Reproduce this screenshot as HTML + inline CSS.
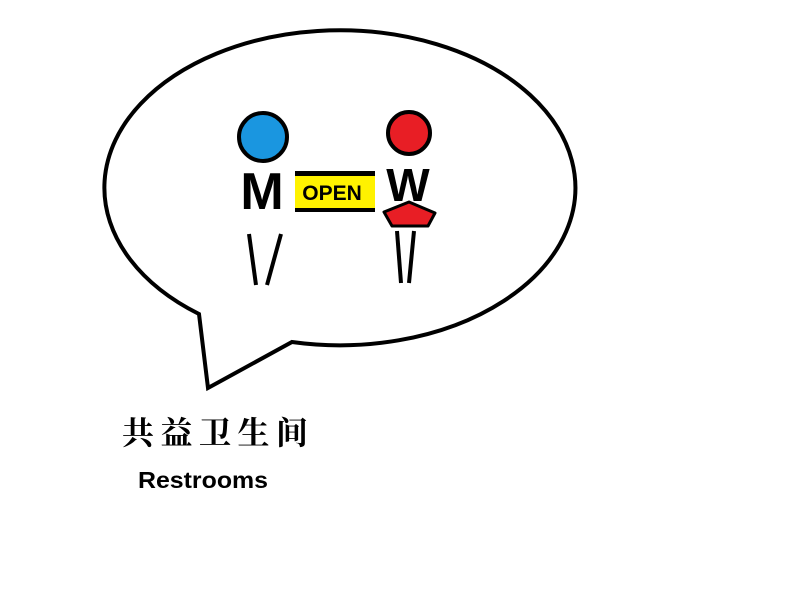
<!DOCTYPE html>
<html><head><meta charset="utf-8"><style>
html,body{margin:0;padding:0;background:#fff;}
</style></head><body>
<svg width="807" height="605" viewBox="0 0 807 605" xmlns="http://www.w3.org/2000/svg">
<rect width="807" height="605" fill="#fff"/>
<path d="M292,342 A235.5,157.5 0 1 0 199,314 L208,388 Z" fill="#fff" stroke="#000" stroke-width="4" stroke-linejoin="miter"/>
<!-- M figure -->
<circle cx="263" cy="137" r="24" fill="#1a96e0" stroke="#000" stroke-width="4"/>
<text x="262" y="209" font-family="Liberation Sans, sans-serif" font-weight="bold" font-size="52" text-anchor="middle">M</text>
<line x1="249" y1="234" x2="256" y2="285" stroke="#000" stroke-width="4"/>
<line x1="281" y1="234" x2="267" y2="285" stroke="#000" stroke-width="4"/>
<!-- OPEN -->
<rect x="295" y="171" width="80" height="41" fill="#000"/>
<rect x="295" y="176" width="80" height="32" fill="#fff200"/>
<text x="332" y="200" font-family="Liberation Sans, sans-serif" font-weight="bold" font-size="21" text-anchor="middle">OPEN</text>
<!-- W figure -->
<circle cx="409" cy="133" r="21" fill="#e81e25" stroke="#000" stroke-width="4"/>
<text x="408" y="201" font-family="Liberation Sans, sans-serif" font-weight="bold" font-size="46" text-anchor="middle">W</text>
<polygon points="384,212 409,202 435,213 428,226 392,226" fill="#e81e25" stroke="#000" stroke-width="3" stroke-linejoin="round"/>
<line x1="397" y1="231" x2="401" y2="283" stroke="#000" stroke-width="4"/>
<line x1="414" y1="231" x2="409" y2="283" stroke="#000" stroke-width="4"/>
<!-- labels -->
<text x="122" y="444" font-family="Noto Serif CJK SC, serif" font-weight="bold" font-size="32" textLength="186" lengthAdjust="spacing">共益卫生间</text>
<text x="138" y="488" font-family="Liberation Sans, sans-serif" font-weight="bold" font-size="23" textLength="130" lengthAdjust="spacingAndGlyphs">Restrooms</text>
</svg>
</body></html>
